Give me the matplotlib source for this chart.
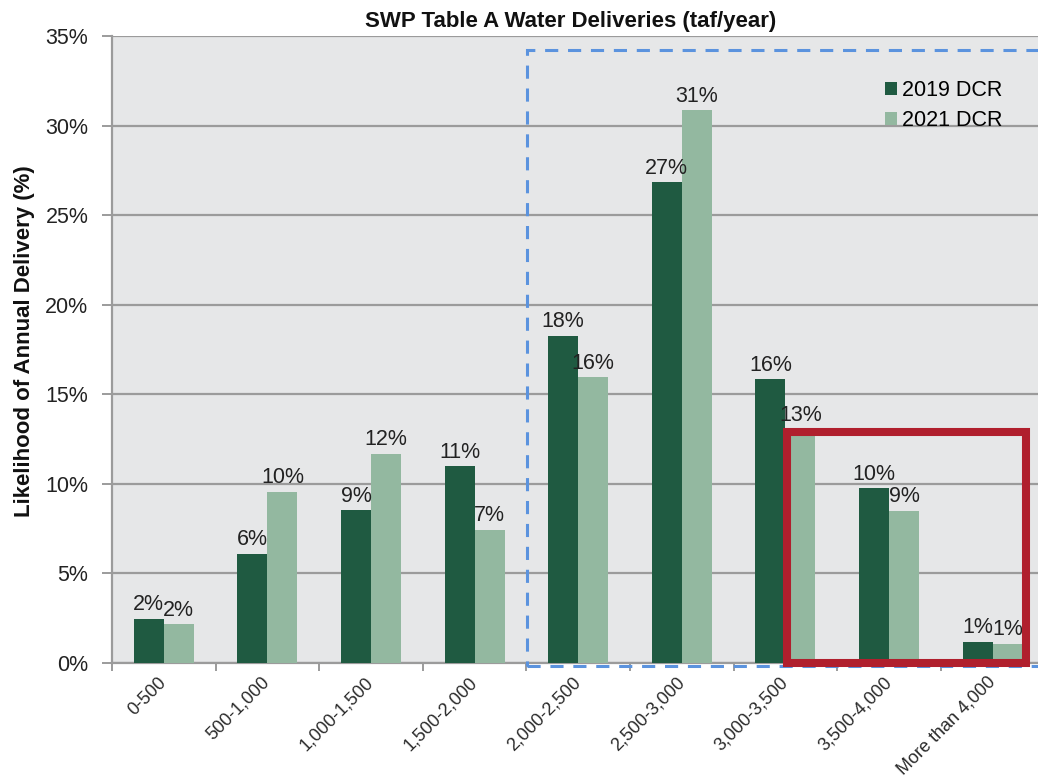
import numpy as np
import matplotlib
matplotlib.use("Agg")
import matplotlib.pyplot as plt
from matplotlib.patches import Rectangle, Patch

plt.rcParams['font.family'] = ['Liberation Sans', 'DejaVu Sans']

categories = ["0-500", "500-1,000", "1,000-1,500", "1,500-2,000", "2,000-2,500",
              "2,500-3,000", "3,000-3,500", "3,500-4,000", "More than 4,000"]
dcr_2019 = [2.46, 6.1, 8.53, 10.99, 18.27, 26.83, 15.85, 9.76, 1.19]
dcr_2021 = [2.16, 9.57, 11.69, 7.45, 15.96, 30.85, 13.05, 8.51, 1.08]
yticks = [0, 5, 10, 15, 20, 25, 30, 35]
series_names = ["2019 DCR", "2021 DCR"]

dark = "#1F5A41"
light = "#93B8A0"
bg = "#E6E7E8"
grid_c = "#9B9B9B"

fig = plt.figure(figsize=(10.38, 7.77), dpi=100)
ax = fig.add_axes([112/1038, 1 - 663/777, (1044.4 - 112)/1038, (663 - 36)/777])
ax.set_facecolor(bg)

x = np.arange(len(categories))
w = 0.29
b1 = ax.bar(x - w/2, dcr_2019, w, color=dark, zorder=3)
b2 = ax.bar(x + w/2, dcr_2021, w, color=light, zorder=3)

for bars, vals in ((b1, dcr_2019), (b2, dcr_2021)):
    for rect, v in zip(bars, vals):
        ax.annotate(f"{v:.0f}%", (rect.get_x() + rect.get_width()/2, v),
                    xytext=(0, 2.5), textcoords="offset points",
                    ha="center", va="bottom", fontsize=15.5, color="#222222", zorder=4)

ax.set_xlim(-0.5, len(categories) - 0.5)
ax.set_ylim(0, 35)
ax.set_yticks(yticks)
ax.set_yticklabels([f"{t}%" for t in yticks])
ax.yaxis.grid(True, color=grid_c, linewidth=1.6, zorder=1)
ax.set_axisbelow(True)

ax.set_xticks(x)
ax.set_xticklabels(categories, rotation=45, ha="right", va="center",
                   rotation_mode="anchor", fontsize=13, color="#2a2a2a")
ax.tick_params(axis="x", length=0, pad=12)
ax.set_xticks(np.arange(-0.5, len(categories), 1), minor=True)
ax.tick_params(axis="x", which="minor", length=6, width=1.4, color=grid_c)
ax.tick_params(axis="y", length=7, width=1.4, color=grid_c, pad=10,
               labelsize=15.5, labelcolor="#222222")

for s in ["top", "right"]:
    ax.spines[s].set_visible(False)
ax.spines["left"].set_color(grid_c)
ax.spines["left"].set_linewidth(1.6)
ax.spines["bottom"].set_color(grid_c)
ax.spines["bottom"].set_linewidth(1.6)

# blue dashed highlight
ax.add_patch(Rectangle((3.506, -0.17), 8.6 - 3.506, 34.2 + 0.17, fill=False,
                       edgecolor="#5B93DE", linewidth=2.2, linestyle=(0, (4.3, 3.2)),
                       clip_on=False, zorder=6))
# red highlight
ax.add_patch(Rectangle((6.015, 0.0), 8.32 - 6.015, 12.9, fill=False,
                       edgecolor="#B01F2D", linewidth=5.8,
                       clip_on=False, zorder=7))

fig.text(571/1038, 1 - 21/777, "SWP Table A Water Deliveries (taf/year)",
         ha="center", va="center", fontsize=16, fontweight="bold", color="#111111")
fig.text(25/1038, 1 - 341/777, "Likelihood of Annual Delivery (%)", rotation=90,
         ha="center", va="center", fontsize=16, fontweight="bold", color="#111111")

handles = [Patch(facecolor=dark, label=series_names[0]),
           Patch(facecolor=light, label=series_names[1])]
ax.legend(handles=handles, loc="upper left", bbox_to_anchor=(885/1038, 1 - 80/777),
          bbox_transform=fig.transFigure, frameon=False, borderpad=0,
          handlelength=0.56, handleheight=0.56, handletextpad=0.25,
          labelspacing=0.42, fontsize=15.5, borderaxespad=0)

fig.savefig("out.png", dpi=100, facecolor="white")
